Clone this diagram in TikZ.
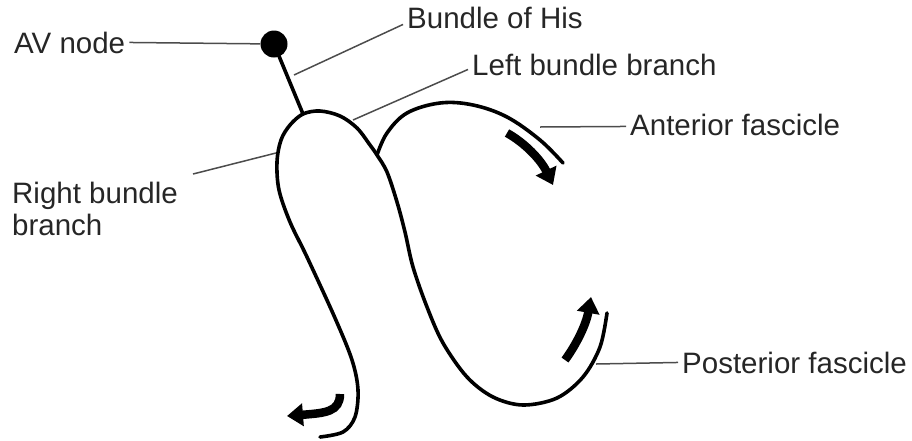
\documentclass[tikz,border=0pt]{standalone}
\usepackage{fontspec}
\setmainfont{Liberation Sans}
\usepackage{tikz}
\usetikzlibrary{arrows.meta,positioning}

\begin{document}
\begin{tikzpicture}[
    x=1pt, y=-1pt,
    lbl/.style={inner sep=4pt, text=black!85, font=\fontsize{29.5}{32}\selectfont, align=left},
    leader/.style={draw=black!70, line width=1.5pt},
    fiber/.style={draw=black, line width=3.6pt, line cap=round, line join=round},
    flow/.style={draw=black, line width=8.5pt, -{Triangle[length=16pt,width=22pt]}}
]
\useasboundingbox (0,0) rectangle (912,440);

% AV node and bundle of His
\node[circle, fill=black, inner sep=0pt, minimum size=27pt] (av) at (274,44) {};
\coordinate (hisend) at (303,114);
\draw[fiber] (av.center) -- (hisend);

% Conduction fibres
\draw[fiber] plot[smooth, tension=0.55] coordinates {
    (320,437) (343,432) (355,417) (358,390) (352,360) (335,318) (307,257)
    (290,222) (279,190) (277,162) (281,140) (290,125) (303,114) (320,111)
    (340,116) (357,128) (370,145) (377,155) (387,172) (397,202) (405,232)
    (413,267) (427,307) (443,343) (467,377) (493,397) (523,405) (557,398)
    (583,377) (600,347) (607,313)};
\draw[fiber] plot[smooth, tension=0.6] coordinates {
    (377,155) (387,133) (407,113) (440,103) (473,105) (507,117) (540,140) (563,163)};

% Flow arrows
\draw[flow] (507,133) .. controls (525,143) and (541,160) .. (553,185);
\draw[flow] (565,360) .. controls (576,345) and (586,325) .. (591,297);
\draw[flow] (340,394) .. controls (340,412) and (325,413) .. (287,416);

% Labels
\node[lbl, anchor=base west] (avlbl) at (10,53) {AV node};
\node[lbl, anchor=base west] (hislbl) at (403,28) {Bundle of His};
\node[lbl, anchor=base west] (lbblbl) at (468,75) {Left bundle branch};
\node[lbl, anchor=north west, inner sep=0pt] (rbblbl) at (12,182) {Right bundle\\branch};
\node[lbl, anchor=base west] (antlbl) at (626,135) {Anterior fascicle};
\node[lbl, anchor=base west] (poslbl) at (678,373) {Posterior fascicle};

% Leaders
\coordinate (hispt) at (294,75);
\coordinate (lbbpt) at (353,120);
\coordinate (rbbpt) at (276,153);
\coordinate (antpt) at (540,127);
\coordinate (pospt) at (596,364);
\draw[leader] (avlbl.east) -- (av);
\draw[leader] (hispt) -- ([yshift=-7pt]hislbl.west);
\draw[leader] (lbbpt) -- ([yshift=-5pt]lbblbl.west);
\draw[leader] (rbbpt) -- ([shift={(15,-8)}]rbblbl.north east);
\draw[leader] (antpt) -- ([yshift=-2pt]antlbl.west);
\draw[leader] (pospt) -- (poslbl.west);

\end{tikzpicture}
\end{document}
